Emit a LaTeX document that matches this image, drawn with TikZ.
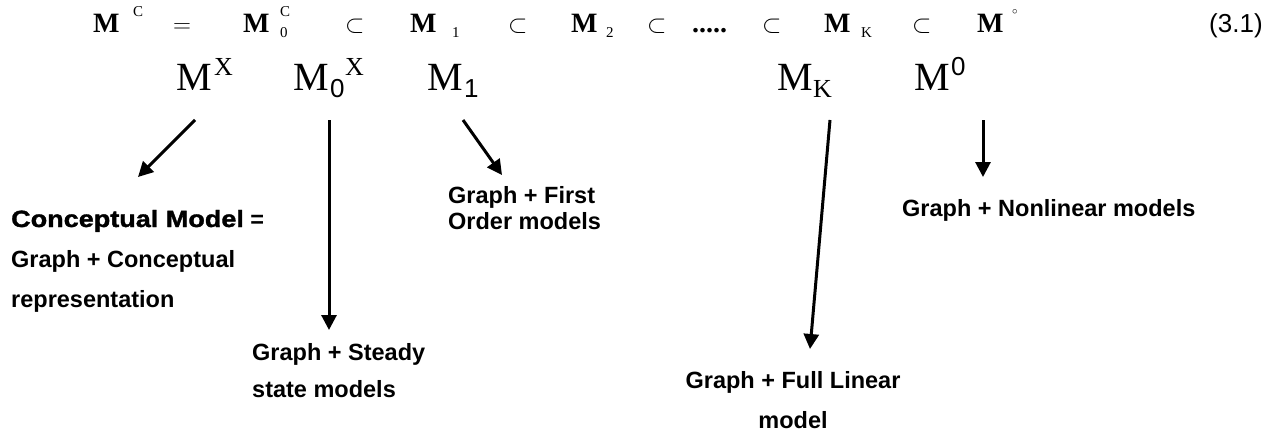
\documentclass[tikz,border=0pt]{standalone}
\usepackage{fontspec}
\setmainfont{Liberation Serif}
\newfontfamily\arialf{Liberation Sans}
\newfontfamily\heavyf{Liberation Sans}[BoldFeatures={FakeBold=1.5,FakeStretch=1.15}]
\usetikzlibrary{arrows.meta}

\tikzset{
  topM/.style={anchor=base west, inner sep=0pt, font=\fontsize{28}{32}\selectfont\bfseries},
  topsym/.style={anchor=base west, inner sep=0pt, font=\fontsize{28}{32}\selectfont},
  topsub/.style={anchor=base west, inner sep=0pt, font=\fontsize{15}{17}\selectfont},
  bigM/.style={anchor=base west, inner sep=0pt, font=\fontsize{40}{48}\selectfont},
  bigidx/.style={anchor=base west, inner sep=0pt, font=\fontsize{26}{30}\selectfont},
  bigidxsans/.style={anchor=base west, inner sep=0pt, font=\fontsize{26}{30}\selectfont\arialf},
  lbl/.style={anchor=base west, inner sep=0pt, align=left,
    font=\fontsize{23.5}{40}\selectfont\arialf\bfseries},
  arr/.style={line width=3pt, -{Triangle[width=15pt,length=15pt]}}
}

\begin{document}
\begin{tikzpicture}[x=1pt, y=-1pt]
\useasboundingbox (0,0) rectangle (1286,436);

% ---- chain of model classes, top line (baseline y = 33)
\node[topM]   (t1)  at (93,33)  {M};
\node[topsub] (t1c) at (133,17) {C};
\node[topsym] (teq) at (173,33) {$=$};
\node[topM]   (t2)  at (243,33) {M};
\node[topsub] (t2c) at (280,17) {C};
\node[topsub] (t20) at (280,38) {0};
\node[topsym] (ts1) at (345,33) {$\subset$};
\node[topM]   (t3)  at (410,33) {M};
\node[topsub] (t31) at (452,38) {1};
\node[topsym] (ts2) at (508,33) {$\subset$};
\node[topM]   (t4)  at (571,33) {M};
\node[topsub] (t42) at (606,38) {2};
\node[topsym] (ts3) at (647,33) {$\subset$};
\node[topM]   (tdots) at (692,33) {.....};
\node[topsym] (ts4) at (762,33) {$\subset$};
\node[topM]   (t5)  at (824,33) {M};
\node[topsub] (t5k) at (861,38) {K};
\node[topsym] (ts5) at (912,33) {$\subset$};
\node[topM]   (t6)  at (977,33) {M};
\node[topsub] (t6o) at (1012,20) {$^\circ$};
\node[anchor=base west, inner sep=0pt, font=\fontsize{26}{30}\selectfont\arialf]
      (eqno) at (1209,33) {(3.1)};

% ---- model names, second line (baseline y = 91)
\node[bigM]   (mx)   at (176,91) {M};
\node[bigidx] (mxs)  at (214,76) {X};
\node[bigM]   (m0)   at (293,91) {M};
\node[bigidxsans] (m0s) at (330,97) {0};
\node[bigidx] (m0x)  at (345,76) {X};
\node[bigM]   (m1)   at (427,91) {M};
\node[bigidxsans] (m1s) at (464,97) {1};
\node[bigM]   (mk)   at (777,91) {M};
\node[bigidx] (mks)  at (813,97) {K};
\node[bigM]   (mo)   at (914,91) {M};
\node[bigidxsans] (mos) at (951,76) {0};

% ---- descriptions (anchored at the baseline of their last line)
\node[lbl] (conc) at (11,307)
  {{\heavyf\bfseries Conceptual Model} =\\ Graph + Conceptual\\ representation};
\node[lbl, font=\fontsize{23.5}{26}\selectfont\arialf\bfseries] (first) at (448,229)
  {Graph + First\\ Order models};
\node[lbl, font=\fontsize{23.5}{37}\selectfont\arialf\bfseries] (steady) at (252,397)
  {Graph + Steady\\ state models};
\node[lbl, align=center, anchor=base] (lin) at (793,428) {Graph + Full Linear\\ model};
\node[lbl] (nonlin) at (902,216) {Graph + Nonlinear models};

% ---- connectors
\coordinate (mx-a)  at (195,120);  \coordinate (conc-a)   at (138,177);
\coordinate (m0-a)  at (329,120);  \coordinate (steady-a) at (329,330);
\coordinate (m1-a)  at (463,120);  \coordinate (first-a)  at (502,175);
\coordinate (mk-a)  at (830,120);  \coordinate (lin-a)    at (810,349);
\coordinate (mo-a)  at (983,120);  \coordinate (nonlin-a) at (983,177);

\draw[arr] (mx-a) -- (conc-a);
\draw[arr] (m0-a) -- (steady-a);
\draw[arr] (m1-a) -- (first-a);
\draw[arr] (mk-a) -- (lin-a);
\draw[arr] (mo-a) -- (nonlin-a);
\end{tikzpicture}
\end{document}
